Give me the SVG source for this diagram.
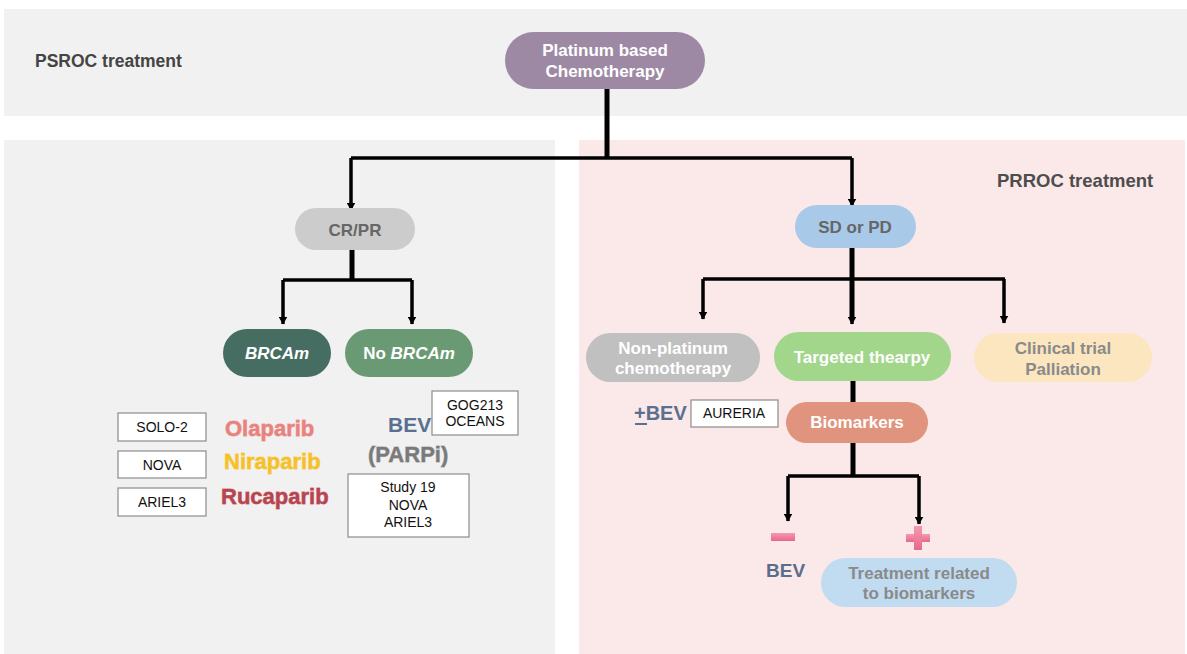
<svg xmlns="http://www.w3.org/2000/svg" width="1187" height="654" viewBox="0 0 1187 654">
  <defs>
    <marker id="arrow" viewBox="0 0 8 9" refX="7.5" refY="4.5" markerWidth="8" markerHeight="9" markerUnits="userSpaceOnUse" orient="auto">
      <path d="M0,0 L8,4.5 L0,9 z" fill="#000"/>
    </marker>
    <linearGradient id="pinkSign" x1="0" y1="0" x2="0" y2="1">
      <stop offset="0" stop-color="#f598b0"/>
      <stop offset="1" stop-color="#e8678a"/>
    </linearGradient>
  </defs>
  <style>
    .lbl { font-family: "Liberation Sans", Arial, sans-serif; font-weight: bold; }
    .node-txt { font-family: "Liberation Sans", Arial, sans-serif; font-weight: bold; font-size: 17px; text-anchor: middle; }
    .white { fill: #ffffff; }
    .grey { fill: #666666; }
    .soft { fill: #8a8a8a; }
    .trial { font-family: "Liberation Sans", Arial, sans-serif; font-size: 14px; text-anchor: middle; fill: #111; }
    .trial-box { fill: #ffffff; stroke: #8c8c8c; stroke-width: 1.2; }
    .drug { font-family: "Liberation Sans", Arial, sans-serif; font-weight: bold; font-size: 22px; stroke-width: 0.8; paint-order: stroke; }
    .conn { fill: none; stroke: #000; stroke-width: 3.5; stroke-linejoin: miter; }
    .trunk { fill: none; stroke: #000; stroke-width: 5; }
  </style>

  <!-- background panels -->
  <rect x="0" y="0" width="1187" height="654" fill="#ffffff"/>
  <rect x="4" y="9" width="1183" height="107" fill="#f1f1f1"/>
  <rect x="4" y="140" width="551" height="514" fill="#f1f1f1"/>
  <rect x="579" y="140" width="606" height="514" fill="#fbe8e9"/>

  <!-- section titles -->
  <text class="lbl" x="35" y="67" font-size="17.5" fill="#444444">PSROC treatment</text>
  <text class="lbl" x="997" y="187" font-size="18.5" fill="#4d4d4d">PRROC treatment</text>

  <!-- connectors -->
  <g id="connectors">
    <path class="trunk" d="M607,89 V158"/>
    <path class="conn" d="M351,158 H852"/>
    <path class="conn" d="M351,158 V210" marker-end="url(#arrow)"/>
    <path class="conn" d="M852,158 V206" marker-end="url(#arrow)"/>

    <path class="trunk" d="M352,250 V280"/>
    <path class="conn" d="M283,280 H412"/>
    <path class="conn" d="M283,280 V324" marker-end="url(#arrow)"/>
    <path class="conn" d="M412,280 V324" marker-end="url(#arrow)"/>

    <path class="trunk" d="M852,248 V279"/>
    <path class="conn" d="M703,279 H1005"/>
    <path class="conn" d="M703,279 V319" marker-end="url(#arrow)"/>
    <path class="trunk" d="M852,279 V318"/>
    <path class="conn" d="M852,310 V324" marker-end="url(#arrow)"/>
    <path class="conn" d="M1004,279 V323" marker-end="url(#arrow)"/>

    <path class="trunk" d="M853,381 V403"/>

    <path class="trunk" d="M853,443 V476"/>
    <path class="conn" d="M788,476 H919"/>
    <path class="conn" d="M788,476 V521" marker-end="url(#arrow)"/>
    <path class="conn" d="M919,476 V524" marker-end="url(#arrow)"/>
  </g>

  <!-- nodes -->
  <g id="platinum">
    <rect x="505" y="32" width="200" height="57" rx="28.5" fill="#9e89a4"/>
    <text class="node-txt white" x="605" y="56">Platinum based</text>
    <text class="node-txt white" x="605" y="77">Chemotherapy</text>
  </g>

  <g id="crpr">
    <rect x="295" y="208" width="120" height="42" rx="21" fill="#cccccc"/>
    <text class="node-txt grey" x="355" y="236" font-size="19">CR/PR</text>
  </g>

  <g id="brcam">
    <rect x="223" y="329" width="108" height="48" rx="24" fill="#456d62"/>
    <text class="node-txt white" x="277" y="359" font-style="italic">BRCAm</text>
  </g>

  <g id="no-brcam">
    <rect x="345" y="329" width="128" height="48" rx="24" fill="#6a9a73"/>
    <text class="node-txt white" x="409" y="359">No <tspan font-style="italic">BRCAm</tspan></text>
  </g>

  <g id="sd-pd">
    <rect x="795" y="205" width="121" height="43" rx="21.5" fill="#a9c9e9"/>
    <text class="node-txt grey" x="855" y="233" font-size="18.5">SD or PD</text>
  </g>

  <g id="non-platinum">
    <rect x="586" y="333" width="174" height="49" rx="24.5" fill="#c0c0c0"/>
    <text class="node-txt white" x="673" y="354">Non-platinum</text>
    <text class="node-txt white" x="673" y="374">chemotherapy</text>
  </g>

  <g id="targeted">
    <rect x="774" y="332" width="177" height="49" rx="24.5" fill="#a2d68b"/>
    <text class="node-txt white" x="862" y="363">Targeted thearpy</text>
  </g>

  <g id="clinical">
    <rect x="974" y="333" width="178" height="49" rx="24.5" fill="#fce6c0"/>
    <text class="node-txt soft" x="1063" y="354">Clinical trial</text>
    <text class="node-txt soft" x="1063" y="375">Palliation</text>
  </g>

  <g id="biomarkers">
    <rect x="786" y="402" width="142" height="41" rx="20.5" fill="#e0947e"/>
    <text class="node-txt white" x="857" y="428">Biomarkers</text>
  </g>

  <g id="treatment-biomarkers">
    <rect x="821" y="558" width="196" height="49" rx="24.5" fill="#c1dcf0"/>
    <text class="node-txt soft" x="919" y="579">Treatment related</text>
    <text class="node-txt soft" x="919" y="599">to biomarkers</text>
  </g>

  <!-- BRCAm: PARP inhibitors and their trials -->
  <g id="brcam-trials">
    <rect class="trial-box" x="118" y="413" width="88" height="28"/>
    <text class="trial" x="162" y="432">SOLO-2</text>
    <rect class="trial-box" x="118" y="451" width="88" height="27"/>
    <text class="trial" x="162" y="470">NOVA</text>
    <rect class="trial-box" x="118" y="488" width="88" height="28"/>
    <text class="trial" x="162" y="507">ARIEL3</text>
  </g>
  <g id="parp-drugs">
    <text class="drug" x="225" y="436" fill="#e8837a" stroke="#f2a0b0">Olaparib</text>
    <text class="drug" x="224" y="469" fill="#f5c12a" stroke="#f7d26a">Niraparib</text>
    <text class="drug" x="221" y="504" fill="#b5454f" stroke="#d77a88">Rucaparib</text>
  </g>

  <!-- No BRCAm: BEV / PARPi -->
  <g id="no-brcam-options">
    <text class="lbl" x="388" y="432" font-size="21" fill="#5a7090">BEV</text>
    <rect class="trial-box" x="432" y="391" width="86" height="44"/>
    <text class="trial" x="475" y="410">GOG213</text>
    <text class="trial" x="475" y="426">OCEANS</text>
    <text class="drug" x="368" y="462" font-size="21" fill="#7a7a7a" stroke="#b0b0b0">(PARPi)</text>
    <rect class="trial-box" x="348" y="474" width="121" height="63"/>
    <text class="trial" x="408" y="492">Study 19</text>
    <text class="trial" x="408" y="510">NOVA</text>
    <text class="trial" x="408" y="527">ARIEL3</text>
  </g>

  <!-- Non-platinum: +/- BEV -->
  <g id="bev-option">
    <text class="lbl" x="634" y="420" font-size="20" fill="#5a7090">+BEV</text>
    <rect x="635" y="423" width="12" height="2" fill="#5a7090"/>
    <rect class="trial-box" x="691" y="400" width="87" height="27"/>
    <text class="trial" x="734" y="418">AURERIA</text>
  </g>

  <!-- biomarker outcome signs -->
  <g id="biomarker-neg">
    <rect x="771" y="533" width="24" height="8" fill="url(#pinkSign)"/>
    <text class="lbl" x="766" y="577" font-size="19" fill="#5a6e8a">BEV</text>
  </g>
  <g id="biomarker-pos">
    <rect x="906" y="534" width="24" height="8" fill="url(#pinkSign)"/>
    <rect x="914" y="526" width="8" height="24" fill="url(#pinkSign)"/>
  </g>
</svg>
